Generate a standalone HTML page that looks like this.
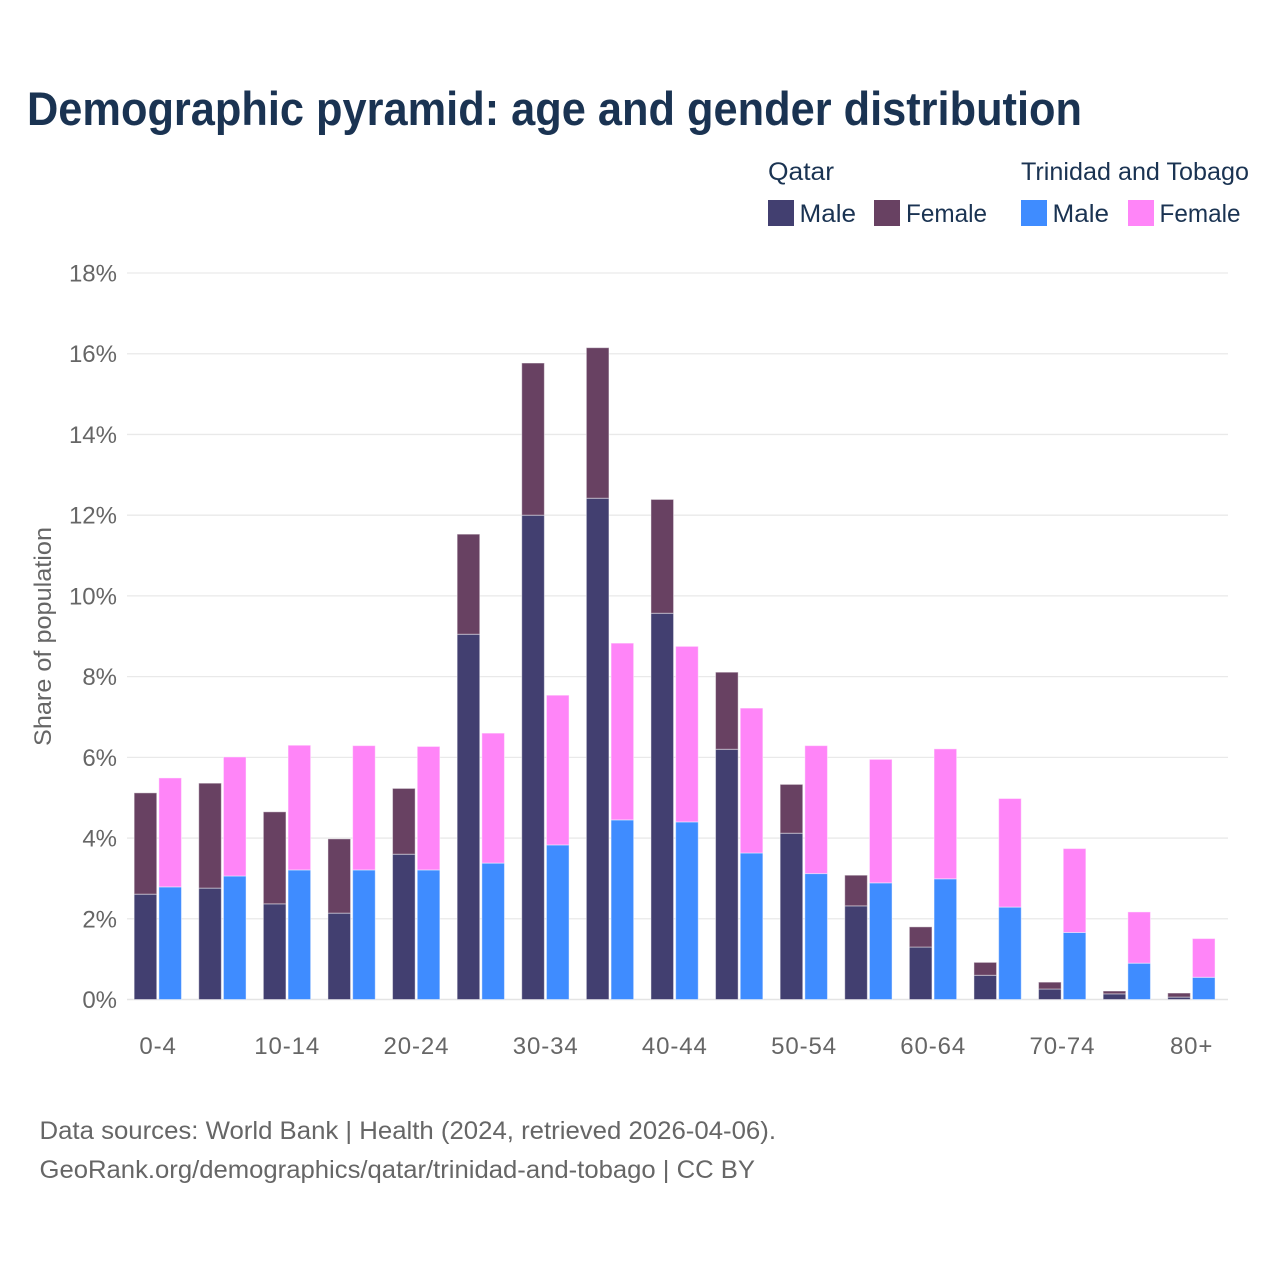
<!DOCTYPE html>
<html>
<head>
<meta charset="utf-8">
<title>Demographic pyramid</title>
<style>
html,body{margin:0;padding:0;background:#fff;}
svg{display:block;}
text{font-family:"Liberation Sans",sans-serif;}
</style>
</head>
<body>
<svg id="chart" width="1280" height="1280" viewBox="0 0 1280 1280" xmlns="http://www.w3.org/2000/svg">
  <rect x="0" y="0" width="1280" height="1280" fill="#fff"/>
  <text x="27" y="125" font-size="47" font-weight="700" fill="#1a3352" textLength="1055" lengthAdjust="spacingAndGlyphs">Demographic pyramid: age and gender distribution</text>

  <g font-size="25" fill="#1a3352">
    <text x="768" y="180" textLength="66" lengthAdjust="spacingAndGlyphs">Qatar</text>
    <rect x="768" y="200" width="26" height="26" fill="#423f70"/>
    <text x="799.5" y="222" textLength="56.5" lengthAdjust="spacingAndGlyphs">Male</text>
    <rect x="874" y="200" width="26" height="26" fill="#684162"/>
    <text x="906" y="222" textLength="81" lengthAdjust="spacingAndGlyphs">Female</text>
    <text x="1021" y="180" textLength="228" lengthAdjust="spacingAndGlyphs">Trinidad and Tobago</text>
    <rect x="1021" y="200" width="26" height="26" fill="#3f8cff"/>
    <text x="1052.5" y="222" textLength="56.5" lengthAdjust="spacingAndGlyphs">Male</text>
    <rect x="1128" y="200" width="26" height="26" fill="#ff85f8"/>
    <text x="1159.5" y="222" textLength="81" lengthAdjust="spacingAndGlyphs">Female</text>
  </g>

  <g id="grid"></g>
  <g id="yticks"></g>
  <g id="bars"></g>
  <g id="xticks"></g>

  <text transform="translate(51,746) rotate(-90)" font-size="24" fill="#666" textLength="219" lengthAdjust="spacingAndGlyphs">Share of population</text>

  <g font-size="25" fill="#666">
    <text x="39.5" y="1139" textLength="736.5" lengthAdjust="spacingAndGlyphs">Data sources: World Bank | Health (2024, retrieved 2026-04-06).</text>
    <text x="39.5" y="1178" textLength="715.5" lengthAdjust="spacingAndGlyphs">GeoRank.org/demographics/qatar/trinidad-and-tobago | CC BY</text>
  </g>
</svg>
<script>
const categories = ["0-4","5-9","10-14","15-19","20-24","25-29","30-34","35-39","40-44","45-49","50-54","55-59","60-64","65-69","70-74","75-79","80+"];
const xTickLabels = ["0-4","","10-14","","20-24","","30-34","","40-44","","50-54","","60-64","","70-74","","80+"];
const yTicks = [0,2,4,6,8,10,12,14,16,18];
const qatarMale = [2.61,2.76,2.37,2.14,3.60,9.05,12.00,12.42,9.57,6.20,4.12,2.32,1.30,0.60,0.26,0.14,0.06];
const qatarFemale = [2.51,2.60,2.28,1.84,1.63,2.48,3.77,3.73,2.82,1.91,1.21,0.76,0.50,0.32,0.17,0.07,0.10];
const ttMale = [2.79,3.06,3.21,3.21,3.21,3.38,3.83,4.45,4.40,3.63,3.12,2.89,2.99,2.29,1.66,0.90,0.55];
const ttFemale = [2.70,2.95,3.09,3.08,3.06,3.22,3.71,4.38,4.35,3.59,3.17,3.06,3.22,2.69,2.08,1.27,0.96];

const NS = "http://www.w3.org/2000/svg";
const Y0 = 999.5, PX_PER_UNIT = 40.36, X0 = 125.35, STEP = 64.6, BAR_W = 22.6, GRID_L = 127, GRID_R = 1228;
function y(v){ return Y0 - v * PX_PER_UNIT; }
function xCenter(i){ return X0 + STEP * (i + 0.5); }

const grid = document.getElementById("grid");
const yGroup = document.getElementById("yticks");
yTicks.forEach(function(t){
  const line = document.createElementNS(NS,"line");
  
  
  line.setAttribute("x1",GRID_L); line.setAttribute("x2",GRID_R);
  line.setAttribute("y1",y(t)); line.setAttribute("y2",y(t));
  line.setAttribute("stroke", t===0 ? "#e4e4e4" : "#e9e9e9");
  line.setAttribute("stroke-width", t===0 ? 1.6 : 1.3);
  grid.appendChild(line);
  const label = document.createElementNS(NS,"text");
  
  
  label.setAttribute("x",117); label.setAttribute("y",y(t)+8.5);
  label.setAttribute("text-anchor","end");
  label.setAttribute("font-size","24"); label.setAttribute("fill","#666");
  label.textContent = t + "%";
  yGroup.appendChild(label);
});

const barGroup = document.getElementById("bars");
function bar(x, base, val, fill, name){
  const r = document.createElementNS(NS,"rect");
  
  
  r.setAttribute("x",x); r.setAttribute("width",BAR_W);
  r.setAttribute("y",y(base+val)); r.setAttribute("height",val*PX_PER_UNIT);
  r.setAttribute("fill",fill);
  r.setAttribute("stroke","#fff"); r.setAttribute("stroke-opacity","0.45"); r.setAttribute("stroke-width","1");
  barGroup.appendChild(r);
}
categories.forEach(function(c,i){
  const cx = xCenter(i);
  const lx = cx - BAR_W - 0.9, rx = cx + 1.2;
  bar(lx, 0, qatarMale[i], "#423f70", "bar-qatar-male");
  bar(lx, qatarMale[i], qatarFemale[i], "#684162", "bar-qatar-female");
  bar(rx, 0, ttMale[i], "#3f8cff", "bar-tt-male");
  bar(rx, ttMale[i], ttFemale[i], "#ff85f8", "bar-tt-female");
});

const xGroup = document.getElementById("xticks");
xTickLabels.forEach(function(l,i){
  if(!l) return;
  const t = document.createElementNS(NS,"text");
  
  
  t.setAttribute("x",xCenter(i)+0.4); t.setAttribute("y",1054);
  t.setAttribute("text-anchor","middle");
  t.setAttribute("font-size","24"); t.setAttribute("fill","#666");
  t.setAttribute("letter-spacing","0.9");
  t.textContent = l;
  xGroup.appendChild(t);
});
</script>
</body>
</html>
